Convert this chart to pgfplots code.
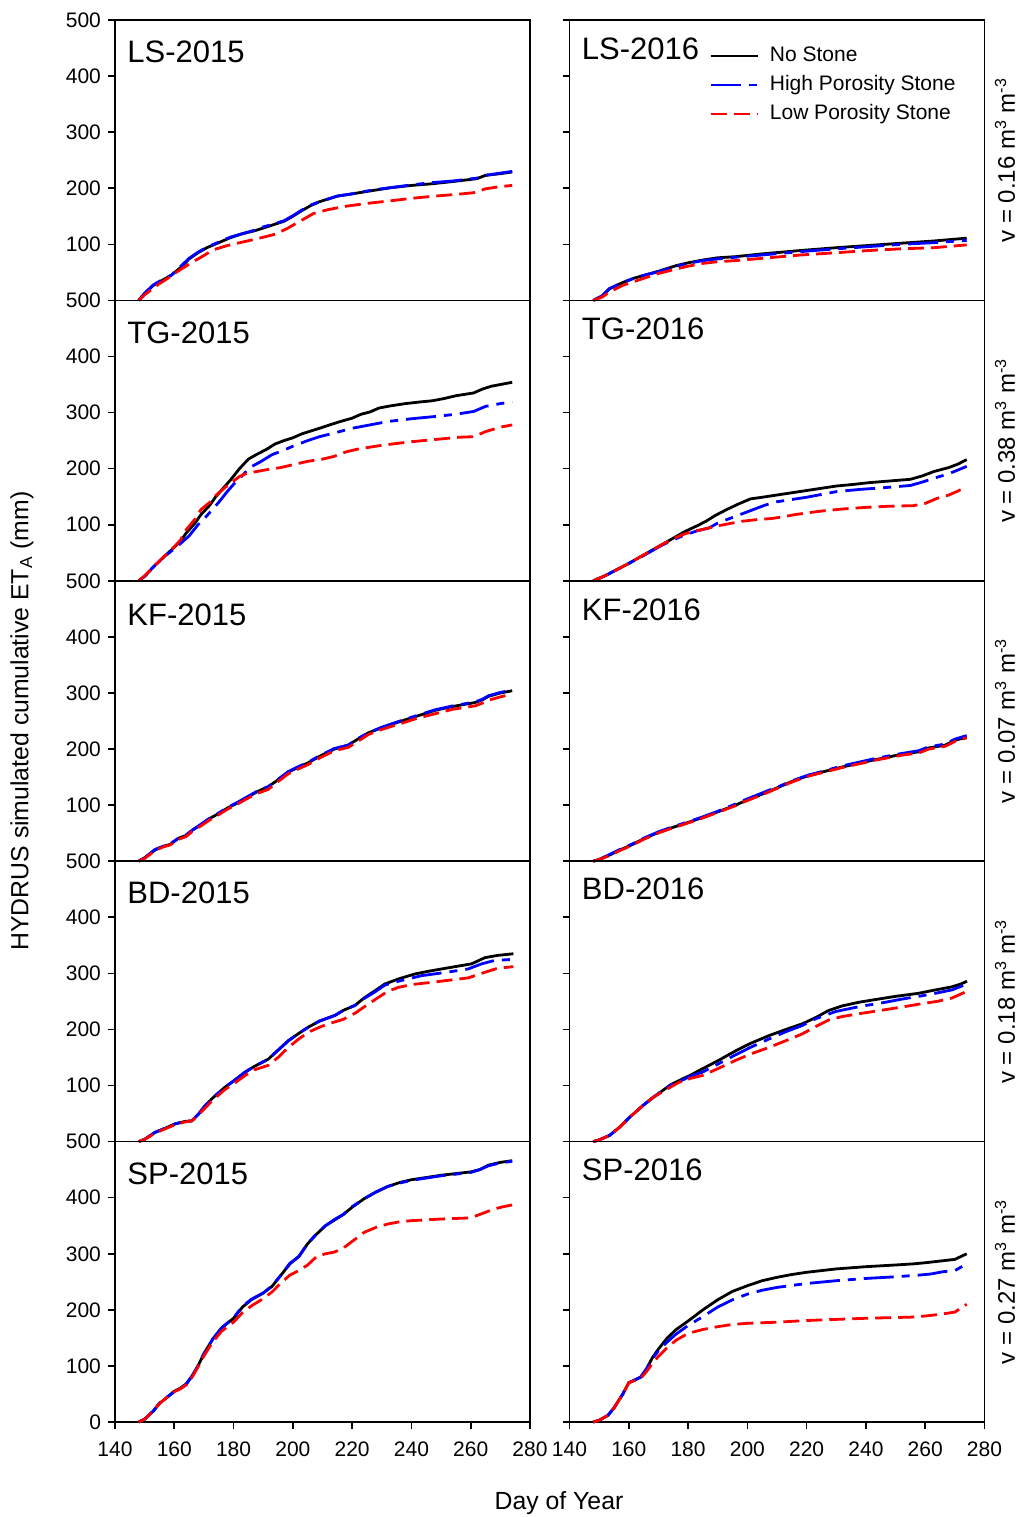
\documentclass[border=0pt]{standalone}
\usepackage{fontspec}
\setmainfont{Liberation Sans}
\usepackage{pgfplots}
\pgfplotsset{compat=1.18}

\pgfplotsset{
  panel/.style={
    scale only axis, width=207.5pt, height=140.2pt,
    xmin=140, xmax=280, ymin=0, ymax=500,
    axis line style={black, line width=0.8pt},
    tick style={black, line width=0.8pt},
    major tick length=3.5pt, tick align=outside, tick pos=left,
    xtick=\empty, ytick={100,200,300,400,500},
    /pgf/number format/assume math mode=true,
    tick label style={font=\fontsize{10.5}{12}\selectfont},
    xticklabel style={yshift=-3pt},
    clip=false,
  },
  bottomrow/.style={xtick={140,160,...,280}, ytick={0,100,...,500}},
  rightcol/.style={yticklabels=\empty},
  ns/.style={black, line width=1.4pt},
  hp/.style={blue, line width=1.4pt, dash pattern=on 15pt off 4pt on 4pt off 4pt},
  lp/.style={red, line width=1.4pt, dash pattern=on 8pt off 3.5pt},
}
\newcommand{\paneltitle}[2]{\node[anchor=west, inner sep=0pt, font=\fontsize{15.5}{18}\selectfont] at (rel axis cs:0.029,#1) {#2};}

\begin{document}
\begin{tikzpicture}
\useasboundingbox (-57.5pt,10pt) rectangle (453pt,-748.5pt);

% ---------- LS ----------
\begin{axis}[panel, at={(0pt,0pt)}, anchor=north west]
\addplot[ns] coordinates {(148,0)(150,12)(153,27)(156,36)(159,45)(162,58)(165,74)(168,85)(171,94)(175,103)(179,112)(183,119)(187,124)(190,129)(194,136)(197,141)(200,150)(203,160)(206,169)(209,176)(212,181)(215,186)(220,190)(227,196)(233,201)(240,205)(247,208)(254,212)(262,217)(265,223)(270,226)(274,229)};
\addplot[hp] coordinates {(148,0)(150,13)(153,28)(156,37)(159,45)(162,60)(165,75)(168,86)(171,95)(175,104)(179,113)(183,119)(187,125)(190,131)(194,137)(197,142)(200,151)(203,161)(206,170)(209,176)(212,181)(215,186)(220,190)(227,197)(233,201)(240,206)(247,210)(254,213)(262,218)(265,223)(270,227)(274,230)};
\addplot[lp] coordinates {(148,0)(150,10)(153,22)(155,30)(158,40)(160,48)(163,58)(166,68)(170,80)(173,90)(178,98)(183,104)(188,110)(194,118)(198,128)(201,137)(204,146)(207,155)(212,162)(218,168)(225,173)(232,177)(240,182)(248,186)(255,189)(261,192)(265,199)(270,203)(274,205)};
\paneltitle{0.886}{LS-2015}
\end{axis}

\begin{axis}[panel, rightcol, at={(227.25pt,0pt)}, anchor=north west,
  legend style={draw=none, fill=none, at={(0.321,0.933)}, anchor=north west,
    font=\fontsize{10.5}{12}\selectfont, row sep=1.7pt,
    /tikz/every odd column/.append style={column sep=4pt},
    nodes={inner sep=1.5pt, text height=7.6pt, text depth=2.2pt}},
  legend cell align=left,
  legend image code/.code={\draw[#1] (0pt,0pt) -- (23.5pt,0pt);}]
\addplot[ns] coordinates {(148,0)(151,8)(153.5,21)(158,32)(162,40)(166,46)(170,52)(176,62)(180,67)(185,72)(190,76)(196,78)(205,83)(218,89)(230,94)(241,98)(252,102)(263,106)(274,111)};
\addlegendentry{No Stone}
\addplot[hp] coordinates {(148,0)(151,8)(153.5,21)(158,32)(162,40)(166,46)(170,51)(176,61)(180,66)(185,71)(190,74)(196,77)(205,81)(218,87)(230,92)(241,96)(252,100)(263,103)(274,107)};
\addlegendentry{High Porosity Stone}
\addplot[lp] coordinates {(148,0)(151,6)(153.5,15)(158,27)(162,34)(166,41)(170,48)(176,56)(180,61)(185,66)(190,69)(196,71)(205,75)(218,81)(230,85)(241,89)(252,92)(263,94)(274,99)};
\addlegendentry{Low Porosity Stone}
\paneltitle{0.897}{LS-2016}
\end{axis}

% ---------- TG ----------
\begin{axis}[panel, at={(0pt,-140.2pt)}, anchor=north west]
\addplot[ns] coordinates {(148,0)(150,8)(153,25)(156,40)(159,55)(162,70)(164,85)(167,103)(169,118)(172,135)(174,150)(177,168)(179,180)(182,200)(185,217)(188,226)(191,234)(194,244)(197,250)(200,255)(203,262)(206,267)(209,272)(213,279)(216,284)(220,290)(223,297)(226,301)(229,308)(233,312)(238,316)(243,319)(247,321)(251,325)(255,330)(261,335)(264,342)(267,347)(271,351)(274,354)};
\addplot[hp] coordinates {(148,0)(150,8)(153,25)(156,40)(159,53)(162,66)(165,80)(168,100)(170,110)(173,128)(175,140)(178,160)(180,172)(183,188)(185.5,202)(189,212)(193,225)(197,233)(200,240)(205,250)(209,257)(215,265)(220,272)(226,278)(232,284)(240,289)(248,293)(255,297)(261,302)(265,311)(270,316)(274,319)};
\addplot[lp] coordinates {(148,0)(150,9)(153,25)(156,41)(159,55)(162,72)(164,91)(167,110)(169,127)(172,140)(174,152)(177,166)(180,178)(182,186)(184.5,192)(188,195)(191,198)(196,202)(200,207)(205,213)(210,217)(214,222)(218,230)(222,235)(228,240)(232,243)(240,248)(250,253)(256,256)(261,257)(265,266)(270,274)(274,278)};
\paneltitle{0.886}{TG-2015}
\end{axis}

\begin{axis}[panel, rightcol, at={(227.25pt,-140.2pt)}, anchor=north west]
\addplot[ns] coordinates {(148,0)(152,9)(156,20)(160,31)(164,43)(168,55)(171,64)(175,76)(179,88)(183,98)(186,106)(189,116)(193,127)(197,137)(201,146)(205,149)(210,153)(215,157)(220,161)(225,165)(230,169)(236,172)(241,175)(248,178)(255,181)(259,187)(263,195)(268,202)(271,208)(274,216)};
\addplot[hp] coordinates {(148,0)(152,9)(156,20)(160,31)(164,42)(168,54)(171,63)(175,73)(179,82)(183,89)(187,94)(190,103)(194,111)(198,119)(202,127)(206,135)(210,141)(215,145)(220,149)(225,154)(230,159)(238,163)(246,166)(255,170)(259,176)(263,183)(268,191)(274,204)};
\addplot[lp] coordinates {(148,0)(152,9)(156,20)(160,31)(164,43)(168,55)(171,64)(175,75)(179,84)(182.6,89)(186,93)(190,98)(194,102)(198,106)(203,109)(208,111)(212,114)(216,118)(220,121)(226,125)(232,128)(240,131)(248,133)(256,134)(260,138)(264,147)(268,153)(271,160)(274,168)};
\paneltitle{0.897}{TG-2016}
\end{axis}

% ---------- KF ----------
\begin{axis}[panel, at={(0pt,-280.4pt)}, anchor=north west]
\addplot[ns] coordinates {(148,0)(150,6)(153.5,20)(156,26)(158.6,30)(161.4,41)(164,46)(166,55)(169,65)(171.5,75)(175,85)(178,95)(181,103)(184,112)(188,124)(191.7,133)(195,145)(198.5,159)(202,168)(205,175)(209,187)(214,200)(218.7,207)(222,218)(225.5,229)(230,238)(236.7,250)(242,259)(248,269)(254,276)(261.5,283)(264,288)(266,294)(270,300)(274,304)};
\addplot[hp] coordinates {(148,0)(150,6)(153.5,21)(156,26)(158.6,31)(161.4,41)(164,47)(166,55)(169,66)(171.5,75)(175,86)(178,96)(181,104)(184,113)(188,125)(191.7,133)(195,146)(198.5,160)(202,169)(205,176)(209,188)(214,201)(218.7,207)(222,219)(225.5,229)(230,239)(236.7,251)(242,260)(248,270)(254,277)(261.5,284)(264,289)(266,295)(270,301)(274,305)};
\addplot[lp] coordinates {(148,0)(150,5)(153.5,19)(156,25)(158.6,29)(161.4,39)(164,44)(166,53)(169,63)(171.5,72)(175,83)(178,93)(181,101)(184,110)(188,121)(191.7,128)(195,142)(198.5,156)(202,165)(205,172)(209,184)(214,197)(218.7,203)(222,214)(225.5,226)(230,235)(236.7,246)(242,255)(248,263)(254,271)(261.5,277)(264,282)(266,287)(270,293)(274,298)};
\paneltitle{0.879}{KF-2015}
\end{axis}

\begin{axis}[panel, rightcol, at={(227.25pt,-280.4pt)}, anchor=north west]
\addplot[ns] coordinates {(148,0)(150,3)(153.5,11)(157,20)(161.3,30)(165,40)(170.3,52)(173,57)(177,64)(181,71)(184.9,78)(190,88)(196,100)(199,107)(202.8,115)(207,124)(211,133)(214,140)(217,146)(220.8,153)(226,160)(232,168)(238,175)(243,181)(248,186)(252,191)(257.8,195)(261.2,202)(266.8,207)(270.2,216)(274,221)};
\addplot[hp] coordinates {(148,0)(150,3)(153.5,12)(157,21)(161.3,31)(165,41)(170.3,53)(173,58)(177,65)(181,72)(184.9,79)(190,89)(196,102)(199,109)(202.8,117)(207,126)(211,134)(214,141)(217,147)(220.8,154)(226,161)(232,170)(238,177)(243,183)(248,188)(252,192)(257.8,197)(261.2,204)(266.8,209)(270.2,218)(274,224)};
\addplot[lp] coordinates {(148,0)(150,3)(153.5,10)(157,19)(161.3,29)(165,39)(170.3,51)(173,56)(177,63)(181,70)(184.9,77)(190,87)(196,99)(199,106)(202.8,114)(207,123)(211,132)(214,139)(217,145)(220.8,152)(226,159)(232,167)(238,174)(243,180)(248,185)(252,189)(257.8,193)(261.2,200)(266.8,205)(270.2,214)(274,220)};
\paneltitle{0.897}{KF-2016}
\end{axis}

% ---------- BD ----------
\begin{axis}[panel, at={(0pt,-420.6pt)}, anchor=north west]
\addplot[ns] coordinates {(148,0)(150,4)(153.5,16.5)(157,24)(160.2,31.5)(163.6,36)(165.9,37)(168,48)(170.4,64)(173,78)(177.1,97)(180,108)(183.9,124)(187,134)(191.7,147)(195,163)(198.5,180)(202,193)(205.2,204)(209,215)(214.2,225)(217,234)(221,243)(224,256)(227.7,269)(231,281)(235.6,290)(241.2,299)(246,304)(252.5,310)(260.3,317)(264.8,328)(269,332)(274.4,335)};
\addplot[hp] coordinates {(148,0)(150,4)(153.5,16.5)(157,24)(160.2,31.5)(163.6,36)(165.9,37)(168,48)(170.4,64)(173,78)(177.1,97)(180,108)(183.9,124)(187,134)(191.7,147)(195,163)(198.5,180)(202,193)(205.2,204)(209,215)(214.2,225)(217,234)(221,243)(224,255)(227.7,267)(231,279)(235.6,286)(243.5,296)(252,302)(259.2,308)(263.7,317)(268,323)(274.4,325)};
\addplot[lp] coordinates {(148,0)(150,4)(153.5,15)(157,23)(160.2,30)(163.6,35)(165.9,37)(168,47)(170.4,60)(173,74)(177.1,93)(180,103)(183.9,118)(187,128)(191.7,136)(195,150)(198.5,168)(202,183)(205.2,195)(209,204)(212,210)(217,218)(221,229)(224,240)(228.8,257)(232,268)(235.6,275)(240,280)(246.8,284)(253,288)(259.2,292)(264.8,302)(269,309)(274.4,312)};
\paneltitle{0.886}{BD-2015}
\end{axis}

\begin{axis}[panel, rightcol, at={(227.25pt,-420.6pt)}, anchor=north west]
\addplot[ns] coordinates {(148,0)(150,3)(153.5,11)(157,26)(160.2,43)(164.7,64)(168,78)(171.4,91)(174,101)(177,109)(181,119)(184.9,130)(190,144)(196.1,162)(201,175)(207.3,189)(213,200)(218.5,210)(223,221)(227.5,234)(232,242)(237.6,248.5)(244,254)(250,259)(257.8,264.5)(263,270)(269,276)(272,281)(274.1,286)};
\addplot[hp] coordinates {(148,0)(150,3)(153.5,11)(157,26)(160.2,43)(164.7,64)(168,78)(171.4,91)(174,100)(177,107)(181,117)(184.9,124)(190,138)(196.1,155)(201,168)(207.3,183)(213,196)(218.5,207)(223,219)(229.8,232)(238,241)(246.6,248.5)(252,254)(257.8,259)(263,264)(269,270.5)(274.1,281)};
\addplot[lp] coordinates {(148,0)(150,3)(153.5,11)(157,26)(160.2,43)(164.7,64)(168,78)(172,91)(177,106)(181,113)(184.9,118)(190,130)(196.1,145)(201,156)(207.3,168)(213,180)(218.5,192)(223,205)(227.5,217)(232,223)(237.6,228)(245,234)(252.2,240)(258.9,246)(264,250)(269,256)(274.1,268)};
\paneltitle{0.9}{BD-2016}
\end{axis}

% ---------- SP ----------
\begin{axis}[panel, bottomrow, at={(0pt,-560.8pt)}, anchor=north west]
\addplot[ns] coordinates {(148,0)(150,5)(153,20)(155,33)(158,46)(160,55)(162,60)(164,68)(166,82)(168,100)(170,122)(173,148)(176,168)(180,185)(183,205)(186,218)(190,230)(193,242)(196,262)(199,282)(202,295)(205,318)(208,335)(211,350)(214,360)(217,370)(220,383)(224,398)(228,410)(232,420)(236,427)(240,432)(245,436)(250,440)(255,443)(260,446)(263,450)(266,458)(270,463)(274,466)};
\addplot[hp] coordinates {(148,0)(150,5)(153,20)(155,34)(158,46)(160,54)(162,60)(164,67)(166,82)(168,100)(170,122)(173,148)(176,168)(180,186)(183,206)(186,219)(190,230)(193,243)(196,262)(199,283)(202,295)(205,318)(208,336)(211,350)(214,361)(217,370)(220,384)(224,398)(228,410)(232,420)(236,426)(240,431)(245,435)(250,439)(255,442)(260,445)(263,450)(266,457)(270,462)(274,465)};
\addplot[lp] coordinates {(148,0)(150,5)(153,20)(155,33)(158,46)(160,54)(162,59)(164,66)(166,80)(168,98)(170,118)(173,143)(176,162)(180,178)(183,195)(186,207)(190,220)(193,232)(196,248)(199,262)(202,270)(205,280)(208,295)(211,300)(214,303)(217,310)(220,322)(224,338)(228,347)(232,353)(236,357)(240,359)(250,362)(260,364)(264,372)(268,380)(271,384)(274,387)};
\paneltitle{0.886}{SP-2015}
\end{axis}

\begin{axis}[panel, bottomrow, rightcol, at={(227.25pt,-560.8pt)}, anchor=north west]
\addplot[ns] coordinates {(148,0)(150,3)(153,12)(155,25)(158,50)(160,70)(162,75)(164,80)(166,95)(168,115)(170,130)(173,150)(176,165)(180,180)(185,200)(190,218)(195,233)(200,243)(205,252)(210,258)(215,263)(220,267)(230,273)(240,277)(250,280)(256,282)(260,284)(265,287)(270,290)(274,300)};
\addplot[hp] coordinates {(148,0)(150,3)(153,12)(155,25)(158,50)(160,70)(162,75)(164,80)(166,95)(168,113)(170,127)(173,143)(176,157)(180,172)(185,188)(190,205)(195,218)(200,228)(205,235)(210,240)(220,247)(230,252)(240,256)(250,259)(258,262)(262,264)(266,268)(270,270)(274,282)};
\addplot[lp] coordinates {(148,0)(150,3)(153,12)(155,25)(158,50)(160,70)(162,74)(164,78)(166,90)(168,105)(170,117)(173,133)(176,146)(180,158)(185,165)(190,170)(195,174)(200,176)(210,178)(220,181)(230,183)(240,185)(255,187)(260,189)(265,192)(270,196)(274,210)};
\paneltitle{0.9}{SP-2016}
\end{axis}

% ---------- shared labels ----------
\node[rotate=90, font=\fontsize{12.4}{14}\selectfont] at (-46.5pt,-350.5pt) {HYDRUS simulated cumulative ET\textsubscript{A} (mm)};
\node[font=\fontsize{12.4}{14}\selectfont] at (222pt,-741.5pt) {Day of Year};
\foreach \yc/\vv in {-70.1/0.16, -210.3/0.38, -350.5/0.07, -490.7/0.18, -630.9/0.27}{
  \node[rotate=90, font=\fontsize{12}{14}\selectfont] at (445pt,\yc pt) {v = \vv\ m\textsuperscript{3} m\textsuperscript{-3}};
}
\end{tikzpicture}
\end{document}
